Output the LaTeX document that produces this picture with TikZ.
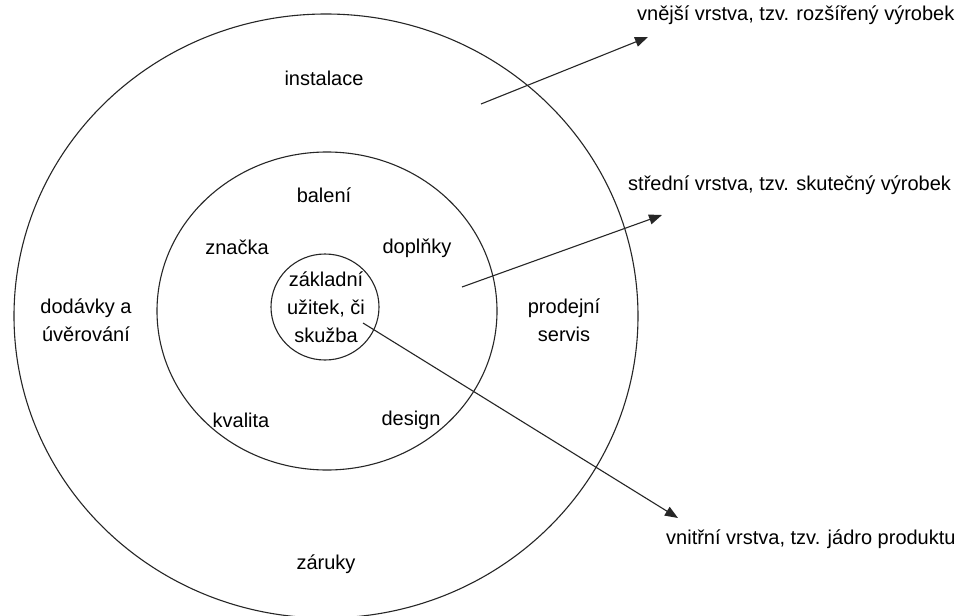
\documentclass[tikz,border=0pt]{standalone}
\usepackage{fontspec}
\setmainfont{Liberation Sans}
\usetikzlibrary{arrows.meta, positioning}

\begin{document}
\begin{tikzpicture}[x=1pt, y=-1pt,
    ring/.style={line width=1.1pt, black!85},
    pointer/.style={line width=1.1pt, black!85, -{Triangle[length=13pt,width=10pt]}},
    lbl/.style={font=\fontsize{20}{28}\selectfont, align=center, inner sep=0pt}]
\useasboundingbox (0,0) rectangle (962,616);
\fill[white] (0,0) rectangle (962,616);
\draw[ring] (326,316) ellipse [x radius=312pt, y radius=302pt];
\draw[ring] (327,311) ellipse [x radius=170pt, y radius=159pt];
\draw[ring] (325,307) ellipse [x radius=54pt, y radius=53pt];
\foreach \px/\py/\name/\txt in {
    324/78/instalace/instalace, 324/195/baleni/balení,
    237/247/znacka/značka, 417/248/doplnky/doplňky,
    326/307/jadro/{základní\\užitek, či\\skužba},
    86/320/dodavky/{dodávky a\\úvěrování}, 564/320/servis/{prodejní\\servis},
    241/420/kvalita/kvalita, 411/420/design/design, 326/564/zaruky/záruky}{
    \node[lbl] (\name) at (\px,\py) {\txt};
}
\node[lbl, anchor=west] (outerlbl) at (637,15) {vnější vrstva, tzv. rozšířený výrobek};
\node[lbl, anchor=west] (midlbl) at (628,185) {střední vrstva, tzv. skutečný výrobek};
\node[lbl, anchor=west] (innerlbl) at (666,539) {vnitřní vrstva, tzv. jádro produktu};
\coordinate (outerfrom) at (481,104);
\coordinate (outerto) at (648,37);
\coordinate (midfrom) at (462,287);
\coordinate (midto) at (662,215);
\coordinate (innerfrom) at (363,323);
\coordinate (innerto) at (678,518);
\draw[pointer] (outerfrom) -- (outerto);
\draw[pointer] (midfrom) -- (midto);
\draw[pointer] (innerfrom) -- (innerto);
\end{tikzpicture}
\end{document}
